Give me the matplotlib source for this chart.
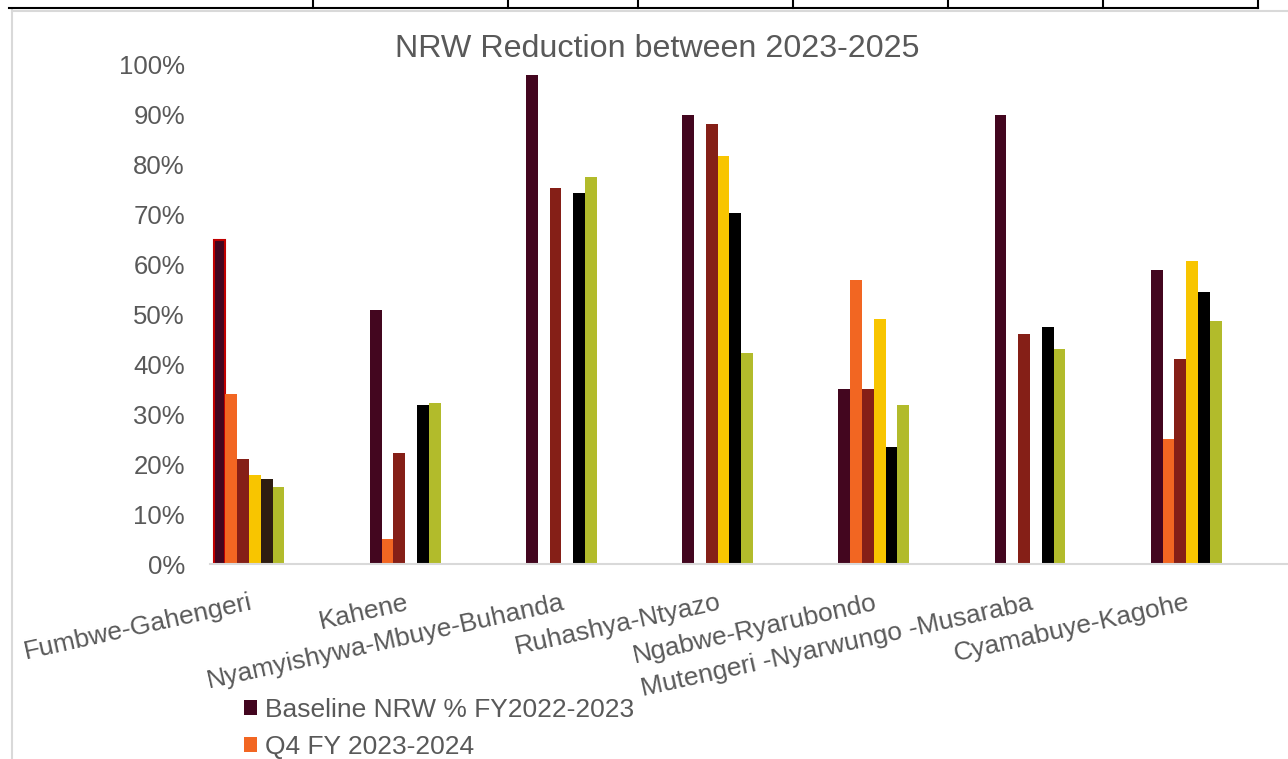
import numpy as np
import matplotlib
matplotlib.use("Agg")
import matplotlib.pyplot as plt
from matplotlib.patches import Patch
from matplotlib.lines import Line2D
from matplotlib.ticker import PercentFormatter

plt.rcParams["font.family"] = ["Liberation Sans", "DejaVu Sans"]

# ---- data -------------------------------------------------------------
categories = [
    "Fumbwe-Gahengeri",
    "Kahene",
    "Nyamyishywa-Mbuye-Buhanda",
    "Ruhashya-Ntyazo",
    "Ngabwe-Ryarubondo",
    "Mutengeri -Nyarwungo -Musaraba",
    "Cyamabuye-Kagohe",
]
series_names = [
    "Baseline NRW % FY2022-2023",
    "Q4 FY 2023-2024",
    "Q1 FY 2024-2025",
    "Q2 FY 2024-2025",
    "Q3 FY 2024-2025",
    "Q4 FY 2024-2025",
]
nan = np.nan
baseline = [65.0, 51.0, 98.0, 90.0, 35.0, 90.0, 59.0]
q4_2324 = [34.0, 5.0, nan, nan, 57.0, nan, 25.0]
q1_2425 = [21.0, 22.3, 75.4, 88.2, 35.1, 46.1, 41.0]
q2_2425 = [17.8, nan, nan, 81.7, 49.1, nan, 60.7]
q3_2425 = [17.0, 31.8, 74.4, 70.3, 23.4, 47.5, 54.6]
q4_2425 = [15.4, 32.2, 77.6, 42.2, 31.9, 43.1, 48.6]

colors = ["#43061f", "#f26622", "#851f17", "#f8c500", "#000000", "#b2bb2b"]

# ---- figure -----------------------------------------------------------
W, H = 1288, 759
fig = plt.figure(figsize=(W / 100, H / 100), dpi=100)
fig.patch.set_facecolor("white")


def fx(x):
    return x / W


def fy(y):
    return 1 - y / H


ax_left, ax_right = 210, 1288
ax_top, ax_bottom = 65, 564
ax = fig.add_axes([fx(ax_left), fy(ax_bottom), (ax_right - ax_left) / W,
                   (ax_bottom - ax_top) / H])
ax.set_facecolor("white")

data = [baseline, q4_2324, q1_2425, q2_2425, q3_2425, q4_2425]
x = np.arange(len(categories))
bw = 0.0755
containers = []
for i, (vals, c, name) in enumerate(zip(data, colors, series_names)):
    v = np.array(vals, dtype=float) / 100.0
    bc = ax.bar(x + (i - 2.5) * bw, v, width=bw, color=c, label=name,
                linewidth=0)
    containers.append(bc)

# individually formatted points in the first group
containers[0].patches[0].set_edgecolor("#c00000")
containers[0].patches[0].set_linewidth(1.5)
containers[4].patches[0].set_facecolor("#2e1d11")

spacing = 156.2
ax.set_xlim((ax_left - 249) / spacing, (ax_right - 249) / spacing)
ax.set_ylim(0, 1)
ax.set_yticks(np.arange(0, 1.01, 0.1))
ax.yaxis.set_major_formatter(PercentFormatter(1.0, decimals=0))
ax.set_xticks(x)
ax.set_xticklabels(categories, rotation=12.5, ha="right",
                   rotation_mode="anchor")

for s in ["top", "right", "left"]:
    ax.spines[s].set_visible(False)
ax.spines["bottom"].set_color("#d9d9d9")
ax.spines["bottom"].set_linewidth(1.5)
ax.tick_params(axis="y", length=0, pad=18, labelsize=18.5, labelcolor="#595959")
ax.tick_params(axis="x", length=0, pad=19, labelsize=19, labelcolor="#595959")

fig.text(fx(657), fy(49), "NRW Reduction between 2023-2025", ha="center",
         va="center", fontsize=23.2, color="#595959")

# legend below the plot; the chart frame only has room for its first rows
n_legend = 2
handles = [Patch(facecolor=c, edgecolor="none") for c in colors[:n_legend]]
fig.legend(handles, series_names[:n_legend], loc="upper left",
           bbox_to_anchor=(fx(244), fy(698)), frameon=False,
           fontsize=19, labelcolor="#595959", handlelength=0.5,
           handleheight=0.5, handletextpad=0.28, labelspacing=0.5,
           borderpad=0, borderaxespad=0)

# chart border and worksheet grid around it
fig.add_artist(Line2D([fx(12), fx(12)], [fy(10), fy(H + 5)],
                      transform=fig.transFigure, color="#d9d9d9", lw=1.5))
fig.add_artist(Line2D([fx(12), fx(W + 5)], [fy(11), fy(11)],
                      transform=fig.transFigure, color="#d9d9d9", lw=1.5))
fig.add_artist(Line2D([fx(9), fx(1258)], [fy(7.5), fy(7.5)],
                      transform=fig.transFigure, color="black", lw=1.5))
for xv in [313, 508, 638, 793, 948, 1103, 1258]:
    fig.add_artist(Line2D([fx(xv), fx(xv)], [fy(-2), fy(7.5)],
                          transform=fig.transFigure, color="black", lw=1.5))

fig.savefig("out.png", dpi=100)
